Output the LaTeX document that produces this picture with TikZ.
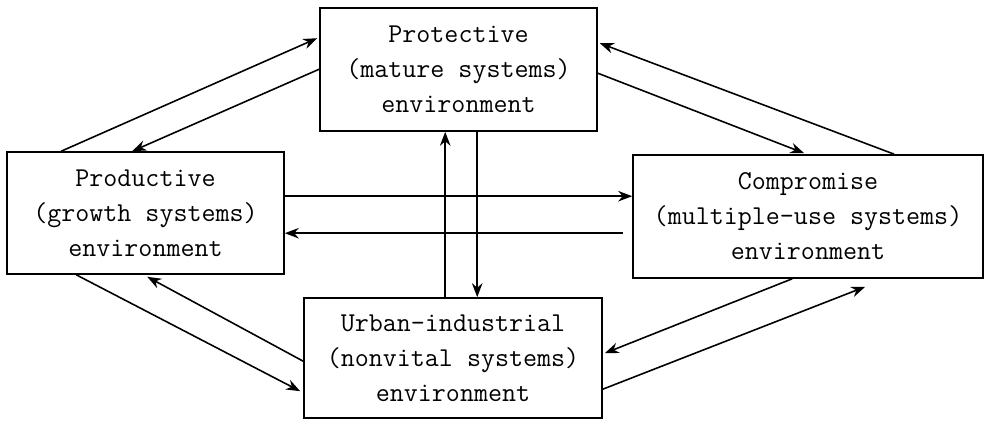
\documentclass[tikz,border=0pt]{standalone}
\usetikzlibrary{arrows.meta,calc}

\newcommand*{\boxfont}{\ttfamily\fontsize{15.5pt}{19.9pt}\selectfont}

\begin{document}
\begin{tikzpicture}
[
	x=0.02cm,y=-0.02cm,
	envbox/.style={draw,line width=0.9pt,align=center,inner sep=0pt,font=\boxfont},
	flow/.style={line width=0.9pt,-{Stealth[length=8pt,width=6pt]}}
]

	\useasboundingbox (0,0) rectangle (991,421);

	% boxes
	\node[envbox,minimum width=277*0.02cm,minimum height=123*0.02cm] at (458.5,69.5) (prot)
		{Protective\\(mature systems)\\environment};
	\node[envbox,minimum width=277*0.02cm,minimum height=122*0.02cm] at (145.5,213) (prod)
		{Productive\\(growth systems)\\environment};
	\node[envbox,minimum width=350*0.02cm,minimum height=123*0.02cm] at (808,216.5) (comp)
		{Compromise\\(multiple-use systems)\\environment};
	\node[envbox,minimum width=298*0.02cm,minimum height=120*0.02cm] at (453,358) (urban)
		{Urban-industrial\\(nonvital systems)\\environment};

	% productive <-> protective
	\draw[flow] ($(prod.north west)+(55,0)$) -- ($(prot.north west)+(-2,31)$);
	\draw[flow] ($(prot.north west)+(0,62)$) -- ($(prod.north west)+(126,0)$);

	% protective <-> compromise
	\draw[flow] ($(prot.north east)+(0,66)$) -- ($(comp.north west)+(172,-1)$);
	\draw[flow] ($(comp.north west)+(262,0)$) -- ($(prot.north east)+(2,36)$);

	% productive <-> compromise
	\draw[flow] ($(prod.north east)+(0,45)$) coordinate (a5) -- (a5 -| comp.west);
	\draw[flow] ($(comp.north west)+(-9,79)$) coordinate (a6) -- (a6 -| prod.east);

	% protective <-> urban
	\draw[flow] ($(urban.north west)+(142,0)$) coordinate (a7) -- (a7 |- prot.south);
	\draw[flow] ($(prot.south west)+(158,0)$) coordinate (a8) -- (a8 |- urban.north);

	% productive <-> urban
	\draw[flow] ($(prod.south west)+(70,0)$) -- ($(urban.north west)+(-3,94)$);
	\draw[flow] ($(urban.north west)+(0,64)$) -- ($(prod.south west)+(141,2)$);

	% compromise <-> urban
	\draw[flow] ($(comp.south west)+(160,0)$) -- ($(urban.north east)+(2,56)$);
	\draw[flow] ($(urban.north east)+(0,92)$) -- ($(comp.south west)+(233,8)$);

\end{tikzpicture}
\end{document}
